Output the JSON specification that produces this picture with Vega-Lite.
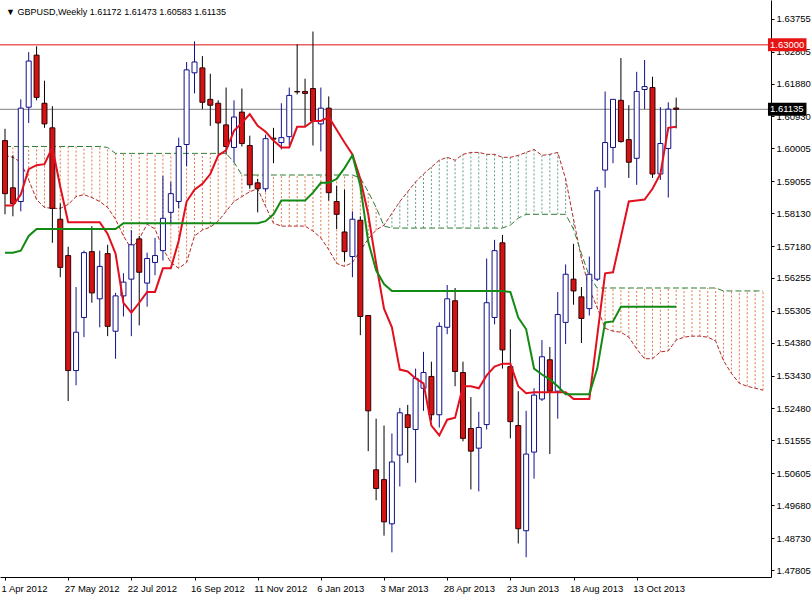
{
"$schema": "https://vega.github.io/schema/vega-lite/v6.json",
"width": 771, "height": 577, "autosize": "none", "padding": {"left": 0, "top": 0, "right": 41, "bottom": 18},
"background": "#ffffff",
"config": {"view": {"stroke": null}, "font": "Liberation Sans", "axis": {"grid": false, "title": null, "labelOverlap": false, "labelBound": false, "labelFlush": false}},
"datasets": {
"weeks": [
{"date":"2012-04-01","open":1.60230,"high":1.60571,"low":1.58097,"close":1.58694,"tenkan":1.58353,"kijun":1.56988,"spanA":1.59803,"spanB":1.60059},
{"date":"2012-04-08","open":1.58864,"high":1.59803,"low":1.58040,"close":1.58410,"tenkan":1.58353,"kijun":1.56988,"spanA":1.59746,"spanB":1.60059},
{"date":"2012-04-15","open":1.58467,"high":1.61423,"low":1.58182,"close":1.61168,"tenkan":1.58666,"kijun":1.57045,"spanA":1.59604,"spanB":1.60059},
{"date":"2012-04-22","open":1.61196,"high":1.62789,"low":1.60741,"close":1.62532,"tenkan":1.59405,"kijun":1.57472,"spanA":1.59092,"spanB":1.60059},
{"date":"2012-04-29","open":1.62703,"high":1.62959,"low":1.61395,"close":1.61480,"tenkan":1.59519,"kijun":1.57671,"spanA":1.58524,"spanB":1.60059},
{"date":"2012-05-06","open":1.61310,"high":1.61964,"low":1.60599,"close":1.60713,"tenkan":1.59547,"kijun":1.57671,"spanA":1.58296,"spanB":1.60059},
{"date":"2012-05-13","open":1.60599,"high":1.61225,"low":1.57272,"close":1.58268,"tenkan":1.60031,"kijun":1.57671,"spanA":1.58268,"spanB":1.60059},
{"date":"2012-05-20","open":1.57955,"high":1.58410,"low":1.56278,"close":1.56562,"tenkan":1.58893,"kijun":1.57671,"spanA":1.58268,"spanB":1.60059},
{"date":"2012-05-27","open":1.56903,"high":1.57158,"low":1.52696,"close":1.53576,"tenkan":1.57870,"kijun":1.57671,"spanA":1.58382,"spanB":1.60059},
{"date":"2012-06-03","open":1.53576,"high":1.55993,"low":1.53150,"close":1.54686,"tenkan":1.57870,"kijun":1.57671,"spanA":1.58609,"spanB":1.60059},
{"date":"2012-06-10","open":1.55112,"high":1.57045,"low":1.54544,"close":1.56988,"tenkan":1.57870,"kijun":1.57671,"spanA":1.58666,"spanB":1.60059},
{"date":"2012-06-17","open":1.57017,"high":1.57756,"low":1.55539,"close":1.55823,"tenkan":1.57870,"kijun":1.57671,"spanA":1.58581,"spanB":1.60059},
{"date":"2012-06-24","open":1.55652,"high":1.57045,"low":1.54828,"close":1.56590,"tenkan":1.57870,"kijun":1.57671,"spanA":1.58467,"spanB":1.60059},
{"date":"2012-07-01","open":1.56960,"high":1.57215,"low":1.54572,"close":1.54856,"tenkan":1.57529,"kijun":1.57671,"spanA":1.58296,"spanB":1.60031},
{"date":"2012-07-08","open":1.54714,"high":1.55823,"low":1.53918,"close":1.55737,"tenkan":1.56960,"kijun":1.57671,"spanA":1.57955,"spanB":1.59860},
{"date":"2012-07-15","open":1.55737,"high":1.56392,"low":1.55140,"close":1.56135,"tenkan":1.55538,"kijun":1.57841,"spanA":1.57472,"spanB":1.59860},
{"date":"2012-07-22","open":1.56221,"high":1.57642,"low":1.54572,"close":1.57215,"tenkan":1.55254,"kijun":1.57841,"spanA":1.57102,"spanB":1.59860},
{"date":"2012-07-29","open":1.57386,"high":1.57472,"low":1.54884,"close":1.56420,"tenkan":1.55538,"kijun":1.57841,"spanA":1.57386,"spanB":1.59860},
{"date":"2012-08-05","open":1.56107,"high":1.56988,"low":1.55425,"close":1.56818,"tenkan":1.55851,"kijun":1.57841,"spanA":1.57813,"spanB":1.59860},
{"date":"2012-08-12","open":1.56704,"high":1.57415,"low":1.56335,"close":1.56903,"tenkan":1.55851,"kijun":1.57841,"spanA":1.57671,"spanB":1.59860},
{"date":"2012-08-19","open":1.57045,"high":1.59206,"low":1.56761,"close":1.57983,"tenkan":1.56534,"kijun":1.57841,"spanA":1.57102,"spanB":1.59860},
{"date":"2012-08-26","open":1.58154,"high":1.59035,"low":1.57813,"close":1.58694,"tenkan":1.56534,"kijun":1.57841,"spanA":1.56704,"spanB":1.59860},
{"date":"2012-09-02","open":1.58467,"high":1.60315,"low":1.58268,"close":1.60059,"tenkan":1.57330,"kijun":1.57841,"spanA":1.56534,"spanB":1.59860},
{"date":"2012-09-09","open":1.60116,"high":1.62504,"low":1.59490,"close":1.62276,"tenkan":1.58467,"kijun":1.57841,"spanA":1.56704,"spanB":1.59860},
{"date":"2012-09-16","open":1.62191,"high":1.63101,"low":1.61594,"close":1.62504,"tenkan":1.58808,"kijun":1.57841,"spanA":1.57472,"spanB":1.59860},
{"date":"2012-09-23","open":1.62333,"high":1.62674,"low":1.61139,"close":1.61338,"tenkan":1.58979,"kijun":1.57841,"spanA":1.57642,"spanB":1.59860},
{"date":"2012-09-30","open":1.61423,"high":1.62163,"low":1.60656,"close":1.61253,"tenkan":1.59263,"kijun":1.57841,"spanA":1.57728,"spanB":1.59860},
{"date":"2012-10-07","open":1.61310,"high":1.61395,"low":1.59831,"close":1.60741,"tenkan":1.59803,"kijun":1.57841,"spanA":1.57898,"spanB":1.59860},
{"date":"2012-10-14","open":1.60684,"high":1.61764,"low":1.59831,"close":1.60059,"tenkan":1.59945,"kijun":1.57841,"spanA":1.58183,"spanB":1.59860},
{"date":"2012-10-21","open":1.60031,"high":1.61395,"low":1.59604,"close":1.60911,"tenkan":1.60514,"kijun":1.57841,"spanA":1.58467,"spanB":1.59604},
{"date":"2012-10-28","open":1.61054,"high":1.61736,"low":1.60059,"close":1.60145,"tenkan":1.60741,"kijun":1.57841,"spanA":1.58609,"spanB":1.59234},
{"date":"2012-11-04","open":1.60088,"high":1.60372,"low":1.58836,"close":1.58950,"tenkan":1.60997,"kijun":1.57841,"spanA":1.58751,"spanB":1.59234},
{"date":"2012-11-11","open":1.59007,"high":1.59121,"low":1.58154,"close":1.58836,"tenkan":1.60656,"kijun":1.57841,"spanA":1.58836,"spanB":1.59234},
{"date":"2012-11-18","open":1.58836,"high":1.60400,"low":1.58751,"close":1.60286,"tenkan":1.60485,"kijun":1.57898,"spanA":1.58325,"spanB":1.59234},
{"date":"2012-11-25","open":1.60300,"high":1.60599,"low":1.59576,"close":1.60272,"tenkan":1.60230,"kijun":1.58097,"spanA":1.57841,"spanB":1.59234},
{"date":"2012-12-02","open":1.60173,"high":1.61310,"low":1.59973,"close":1.60315,"tenkan":1.60031,"kijun":1.58495,"spanA":1.57756,"spanB":1.59234},
{"date":"2012-12-09","open":1.60343,"high":1.61764,"low":1.60088,"close":1.61537,"tenkan":1.60031,"kijun":1.58495,"spanA":1.57756,"spanB":1.59234},
{"date":"2012-12-16","open":1.61651,"high":1.63016,"low":1.61566,"close":1.61637,"tenkan":1.60628,"kijun":1.58495,"spanA":1.57756,"spanB":1.59234},
{"date":"2012-12-23","open":1.61651,"high":1.62020,"low":1.60627,"close":1.61594,"tenkan":1.60628,"kijun":1.58495,"spanA":1.57756,"spanB":1.59234},
{"date":"2012-12-30","open":1.61736,"high":1.63385,"low":1.60088,"close":1.60798,"tenkan":1.60798,"kijun":1.58723,"spanA":1.57614,"spanB":1.59234},
{"date":"2013-01-06","open":1.60713,"high":1.61764,"low":1.59917,"close":1.61168,"tenkan":1.60798,"kijun":1.59007,"spanA":1.57415,"spanB":1.59234},
{"date":"2013-01-13","open":1.61168,"high":1.61509,"low":1.58495,"close":1.58723,"tenkan":1.60912,"kijun":1.59007,"spanA":1.57074,"spanB":1.59234},
{"date":"2013-01-20","open":1.58467,"high":1.58922,"low":1.57671,"close":1.58097,"tenkan":1.60542,"kijun":1.59121,"spanA":1.56676,"spanB":1.59234},
{"date":"2013-01-27","open":1.57586,"high":1.58808,"low":1.56733,"close":1.57017,"tenkan":1.60173,"kijun":1.59434,"spanA":1.56590,"spanB":1.59234},
{"date":"2013-02-03","open":1.56875,"high":1.58182,"low":1.56278,"close":1.57955,"tenkan":1.59832,"kijun":1.59803,"spanA":1.56704,"spanB":1.59234},
{"date":"2013-02-10","open":1.57926,"high":1.58040,"low":1.54600,"close":1.55140,"tenkan":1.59121,"kijun":1.58922,"spanA":1.57045,"spanB":1.59149},
{"date":"2013-02-17","open":1.55169,"high":1.55169,"low":1.51245,"close":1.52411,"tenkan":1.58097,"kijun":1.57301,"spanA":1.57386,"spanB":1.58751},
{"date":"2013-02-24","open":1.50705,"high":1.52184,"low":1.49824,"close":1.50165,"tenkan":1.56676,"kijun":1.56477,"spanA":1.57642,"spanB":1.58296},
{"date":"2013-03-03","open":1.50421,"high":1.51985,"low":1.48800,"close":1.49199,"tenkan":1.55368,"kijun":1.56079,"spanA":1.57785,"spanB":1.57756},
{"date":"2013-03-10","open":1.49142,"high":1.51757,"low":1.48317,"close":1.50932,"tenkan":1.54828,"kijun":1.55880,"spanA":1.58126,"spanB":1.57699},
{"date":"2013-03-17","open":1.51132,"high":1.52496,"low":1.50222,"close":1.52354,"tenkan":1.53605,"kijun":1.55880,"spanA":1.58467,"spanB":1.57699},
{"date":"2013-03-24","open":1.52297,"high":1.52582,"low":1.50904,"close":1.51928,"tenkan":1.53548,"kijun":1.55880,"spanA":1.58751,"spanB":1.57699},
{"date":"2013-03-31","open":1.51871,"high":1.53633,"low":1.50335,"close":1.53349,"tenkan":1.53349,"kijun":1.55880,"spanA":1.59035,"spanB":1.57699},
{"date":"2013-04-07","open":1.53065,"high":1.54117,"low":1.52411,"close":1.53519,"tenkan":1.53207,"kijun":1.55880,"spanA":1.59263,"spanB":1.57699},
{"date":"2013-04-14","open":1.53406,"high":1.53833,"low":1.52127,"close":1.52297,"tenkan":1.51985,"kijun":1.55880,"spanA":1.59462,"spanB":1.57699},
{"date":"2013-04-21","open":1.52297,"high":1.54970,"low":1.51928,"close":1.54856,"tenkan":1.51700,"kijun":1.55880,"spanA":1.59661,"spanB":1.57699},
{"date":"2013-04-28","open":1.54828,"high":1.56050,"low":1.54629,"close":1.55652,"tenkan":1.52155,"kijun":1.55880,"spanA":1.59746,"spanB":1.57699},
{"date":"2013-05-05","open":1.55596,"high":1.55965,"low":1.53122,"close":1.53548,"tenkan":1.52212,"kijun":1.55880,"spanA":1.59661,"spanB":1.57699},
{"date":"2013-05-12","open":1.53519,"high":1.53833,"low":1.51529,"close":1.51615,"tenkan":1.53122,"kijun":1.55880,"spanA":1.59832,"spanB":1.57699},
{"date":"2013-05-19","open":1.51899,"high":1.52809,"low":1.50136,"close":1.51245,"tenkan":1.53122,"kijun":1.55880,"spanA":1.59888,"spanB":1.57699},
{"date":"2013-05-26","open":1.51331,"high":1.52383,"low":1.50080,"close":1.51928,"tenkan":1.53065,"kijun":1.55880,"spanA":1.59888,"spanB":1.57699},
{"date":"2013-06-02","open":1.52013,"high":1.56818,"low":1.51871,"close":1.55539,"tenkan":1.53435,"kijun":1.55880,"spanA":1.59832,"spanB":1.57699},
{"date":"2013-06-09","open":1.55112,"high":1.57358,"low":1.54912,"close":1.57045,"tenkan":1.53690,"kijun":1.55880,"spanA":1.59832,"spanB":1.57699},
{"date":"2013-06-16","open":1.57272,"high":1.57500,"low":1.53633,"close":1.54174,"tenkan":1.53776,"kijun":1.55880,"spanA":1.59746,"spanB":1.57699},
{"date":"2013-06-23","open":1.53690,"high":1.54771,"low":1.51615,"close":1.52098,"tenkan":1.53776,"kijun":1.55851,"spanA":1.59746,"spanB":1.57785},
{"date":"2013-06-30","open":1.51985,"high":1.52980,"low":1.48573,"close":1.49000,"tenkan":1.53122,"kijun":1.55112,"spanA":1.59803,"spanB":1.57984},
{"date":"2013-07-07","open":1.48942,"high":1.52411,"low":1.48175,"close":1.51160,"tenkan":1.52923,"kijun":1.54771,"spanA":1.59888,"spanB":1.58097},
{"date":"2013-07-14","open":1.51217,"high":1.53065,"low":1.50449,"close":1.52866,"tenkan":1.52951,"kijun":1.53634,"spanA":1.59974,"spanB":1.58097},
{"date":"2013-07-21","open":1.52752,"high":1.54458,"low":1.52696,"close":1.53975,"tenkan":1.52951,"kijun":1.53463,"spanA":1.59803,"spanB":1.58097},
{"date":"2013-07-28","open":1.53889,"high":1.54259,"low":1.51160,"close":1.52980,"tenkan":1.52951,"kijun":1.53321,"spanA":1.59832,"spanB":1.58097},
{"date":"2013-08-04","open":1.52980,"high":1.55851,"low":1.52184,"close":1.55197,"tenkan":1.52951,"kijun":1.53122,"spanA":1.59888,"spanB":1.58097},
{"date":"2013-08-11","open":1.54970,"high":1.56647,"low":1.54344,"close":1.56363,"tenkan":1.52951,"kijun":1.52894,"spanA":1.59121,"spanB":1.58097},
{"date":"2013-08-18","open":1.56221,"high":1.57244,"low":1.55482,"close":1.55880,"tenkan":1.52752,"kijun":1.52894,"spanA":1.57955,"spanB":1.57671},
{"date":"2013-08-25","open":1.55709,"high":1.55993,"low":1.54373,"close":1.55084,"tenkan":1.52752,"kijun":1.52894,"spanA":1.56818,"spanB":1.56960},
{"date":"2013-09-01","open":1.55368,"high":1.56875,"low":1.55169,"close":1.56363,"tenkan":1.52752,"kijun":1.52894,"spanA":1.55936,"spanB":1.56306},
{"date":"2013-09-08","open":1.56221,"high":1.58893,"low":1.56164,"close":1.58780,"tenkan":1.54572,"kijun":1.53634,"spanA":1.55396,"spanB":1.55965},
{"date":"2013-09-15","open":1.59377,"high":1.61651,"low":1.58865,"close":1.60173,"tenkan":1.56391,"kijun":1.54970,"spanA":1.54799,"spanB":1.55965},
{"date":"2013-09-22","open":1.60031,"high":1.61423,"low":1.59576,"close":1.61423,"tenkan":1.56420,"kijun":1.54998,"spanA":1.54714,"spanB":1.55965},
{"date":"2013-09-29","open":1.61395,"high":1.62618,"low":1.60173,"close":1.60201,"tenkan":1.57443,"kijun":1.55425,"spanA":1.54686,"spanB":1.55965},
{"date":"2013-10-06","open":1.60258,"high":1.61253,"low":1.59149,"close":1.59604,"tenkan":1.58467,"kijun":1.55425,"spanA":1.54543,"spanB":1.55965},
{"date":"2013-10-13","open":1.59718,"high":1.62220,"low":1.58950,"close":1.61651,"tenkan":1.58495,"kijun":1.55425,"spanA":1.54202,"spanB":1.55965},
{"date":"2013-10-20","open":1.61708,"high":1.62561,"low":1.61139,"close":1.61793,"tenkan":1.58524,"kijun":1.55425,"spanA":1.53918,"spanB":1.55965},
{"date":"2013-10-27","open":1.61764,"high":1.62078,"low":1.59149,"close":1.59263,"tenkan":1.58836,"kijun":1.55425,"spanA":1.53918,"spanB":1.55965},
{"date":"2013-11-03","open":1.59263,"high":1.61196,"low":1.59092,"close":1.60145,"tenkan":1.59263,"kijun":1.55425,"spanA":1.54117,"spanB":1.55965},
{"date":"2013-11-10","open":1.60002,"high":1.61338,"low":1.58581,"close":1.61139,"tenkan":1.60599,"kijun":1.55425,"spanA":1.54145,"spanB":1.55965},
{"date":"2013-11-17","open":1.61172,"high":1.61473,"low":1.60583,"close":1.61135,"tenkan":1.60628,"kijun":1.55425,"spanA":1.54458,"spanB":1.55965},
{"date":"2013-11-24","spanA":1.54543,"spanB":1.55965},
{"date":"2013-12-01","spanA":1.54572,"spanB":1.55965},
{"date":"2013-12-08","spanA":1.54572,"spanB":1.55965},
{"date":"2013-12-15","spanA":1.54543,"spanB":1.55965},
{"date":"2013-12-22","spanA":1.54430,"spanB":1.55965},
{"date":"2013-12-29","spanA":1.53861,"spanB":1.55880},
{"date":"2014-01-05","spanA":1.53491,"spanB":1.55880},
{"date":"2014-01-12","spanA":1.53207,"spanB":1.55880},
{"date":"2014-01-19","spanA":1.53122,"spanB":1.55880},
{"date":"2014-01-26","spanA":1.53065,"spanB":1.55880},
{"date":"2014-02-02","spanA":1.53008,"spanB":1.55880}
],
"levels": [
{"level":1.63,"label":"1.63000","kind":"alert"},
{"level":1.61135,"label":"1.61135","kind":"bid"}
],
"head": [
{"text":"▼ GBPUSD,Weekly  1.61172 1.61473 1.60583 1.61135"}
]
},
"layer": [
{
"data": {"name": "weeks"},
"mark": {"type": "rule", "strokeDash": [2, 2], "strokeWidth": 1, "clip": true},
"encoding": {
"x": {"field": "date", "type": "temporal", "title": null,
"scale": {"type": "utc", "domain": [{"year":2012,"month":4,"date":1,"utc":true},{"year":2014,"month":2,"date":4,"hours":15,"utc":true}]},
"axis": {"orient": "bottom", "title": null, "grid": false, "format": "%-d %b %Y", "tickCount": 40,
"values": [{"year":2012,"month":4,"date":1,"utc":true},{"year":2012,"month":5,"date":27,"utc":true},{"year":2012,"month":7,"date":22,"utc":true},{"year":2012,"month":9,"date":16,"utc":true},{"year":2012,"month":11,"date":11,"utc":true},{"year":2013,"month":1,"date":6,"utc":true},{"year":2013,"month":3,"date":3,"utc":true},{"year":2013,"month":4,"date":28,"utc":true},{"year":2013,"month":6,"date":23,"utc":true},{"year":2013,"month":8,"date":18,"utc":true},{"year":2013,"month":10,"date":13,"utc":true}],
"domainColor": "#000000", "domainWidth": 1, "tickColor": "#000000", "tickSize": 3,
"labelAlign": "left", "labelBaseline": "top", "labelPadding": 3, "labelOffset": -4, "labelFont": "Liberation Sans", "labelFontSize": 9.5, "labelColor": "#000000", "labelOverlap": false, "labelFlush": false, "labelBound": false}},
"y": {"field": "spanA", "type": "quantitative", "title": null,
"scale": {"domain": [1.47748, 1.64153], "nice": false, "zero": false},
"axis": {"orient": "right", "title": null, "grid": false, "format": ".5f", "tickCount": 40,
"values": [1.63755, 1.62805, 1.6188, 1.6093, 1.60005, 1.59055, 1.5813, 1.5718, 1.56255, 1.55305, 1.5438, 1.5343, 1.5248, 1.51555, 1.50605, 1.4968, 1.4873, 1.47805],
"domainColor": "#000000", "domainWidth": 1, "tickColor": "#000000", "tickSize": 3,
"labelPadding": 2, "labelFont": "Liberation Sans", "labelFontSize": 9.5, "labelColor": "#000000", "labelOverlap": false, "labelBound": false}},
"y2": {"field": "spanB"},
"color": {"condition": {"test": "datum.spanA > datum.spanB", "value": "#5f9f8a"}, "value": "#e07a4a"}
}
},
{
"data": {"name": "weeks"},
"mark": {"type": "line", "strokeDash": [4, 2], "strokeWidth": 1, "color": "#b02a2a", "clip": true},
"encoding": {
"x": {"field": "date", "type": "temporal", "title": null, "scale": {"type": "utc", "domain": [{"year":2012,"month":4,"date":1,"utc":true},{"year":2014,"month":2,"date":4,"hours":15,"utc":true}]}},
"y": {"field": "spanA", "type": "quantitative", "title": null, "scale": {"domain": [1.47748, 1.64153], "nice": false, "zero": false}}
}
},
{
"data": {"name": "weeks"},
"mark": {"type": "line", "strokeDash": [6, 3], "strokeWidth": 1, "color": "#2e7d32", "clip": true},
"encoding": {
"x": {"field": "date", "type": "temporal", "title": null, "scale": {"type": "utc", "domain": [{"year":2012,"month":4,"date":1,"utc":true},{"year":2014,"month":2,"date":4,"hours":15,"utc":true}]}},
"y": {"field": "spanB", "type": "quantitative", "title": null, "scale": {"domain": [1.47748, 1.64153], "nice": false, "zero": false}}
}
},
{
"data": {"name": "levels"},
"mark": {"type": "rule", "strokeWidth": 1, "clip": true},
"encoding": {
"y": {"field": "level", "type": "quantitative", "title": null, "scale": {"domain": [1.47748, 1.64153], "nice": false, "zero": false}},
"color": {"condition": {"test": "datum.kind == 'alert'", "value": "#e01010"}, "value": "#808080"}
}
},
{
"data": {"name": "weeks"},
"transform": [{"filter": "isValid(datum.open)"}],
"mark": {"type": "rule", "strokeWidth": 1, "clip": true},
"encoding": {
"x": {"field": "date", "type": "temporal", "title": null, "scale": {"type": "utc", "domain": [{"year":2012,"month":4,"date":1,"utc":true},{"year":2014,"month":2,"date":4,"hours":15,"utc":true}]}},
"y": {"field": "low", "type": "quantitative", "title": null, "scale": {"domain": [1.47748, 1.64153], "nice": false, "zero": false}},
"y2": {"field": "high"},
"color": {"condition": {"test": "datum.close >= datum.open", "value": "#10108a"}, "value": "#000000"}
}
},
{
"data": {"name": "weeks"},
"transform": [{"filter": "isValid(datum.open)"}],
"mark": {"type": "bar", "size": 5, "strokeWidth": 1, "clip": true},
"encoding": {
"x": {"field": "date", "type": "temporal", "title": null, "scale": {"type": "utc", "domain": [{"year":2012,"month":4,"date":1,"utc":true},{"year":2014,"month":2,"date":4,"hours":15,"utc":true}]}},
"y": {"field": "open", "type": "quantitative", "title": null, "scale": {"domain": [1.47748, 1.64153], "nice": false, "zero": false}},
"y2": {"field": "close"},
"fill": {"condition": {"test": "datum.close >= datum.open", "value": "#ffffff"}, "value": "#d41414"},
"stroke": {"condition": {"test": "datum.close >= datum.open", "value": "#10108a"}, "value": "#300000"}
}
},
{
"data": {"name": "weeks"},
"transform": [{"filter": "isValid(datum.tenkan)"}],
"mark": {"type": "line", "strokeWidth": 2, "color": "#e2101e", "clip": true},
"encoding": {
"x": {"field": "date", "type": "temporal", "title": null, "scale": {"type": "utc", "domain": [{"year":2012,"month":4,"date":1,"utc":true},{"year":2014,"month":2,"date":4,"hours":15,"utc":true}]}},
"y": {"field": "tenkan", "type": "quantitative", "title": null, "scale": {"domain": [1.47748, 1.64153], "nice": false, "zero": false}}
}
},
{
"data": {"name": "weeks"},
"transform": [{"filter": "isValid(datum.kijun)"}],
"mark": {"type": "line", "strokeWidth": 2, "color": "#138a13", "clip": true},
"encoding": {
"x": {"field": "date", "type": "temporal", "title": null, "scale": {"type": "utc", "domain": [{"year":2012,"month":4,"date":1,"utc":true},{"year":2014,"month":2,"date":4,"hours":15,"utc":true}]}},
"y": {"field": "kijun", "type": "quantitative", "title": null, "scale": {"domain": [1.47748, 1.64153], "nice": false, "zero": false}}
}
},
{
"data": {"name": "levels"},
"mark": {"type": "bar", "size": 13, "clip": false, "orient": "horizontal"},
"encoding": {
"x": {"datum": {"year":2014,"month":2,"date":6,"hours":9,"utc":true}, "type": "temporal", "title": null, "scale": {"type": "utc", "domain": [{"year":2012,"month":4,"date":1,"utc":true},{"year":2014,"month":2,"date":4,"hours":15,"utc":true}]}},
"x2": {"datum": {"year":2014,"month":3,"date":12,"hours":12,"utc":true}},
"y": {"field": "level", "type": "quantitative", "title": null, "scale": {"domain": [1.47748, 1.64153], "nice": false, "zero": false}},
"color": {"condition": {"test": "datum.kind == 'alert'", "value": "#e81414"}, "value": "#000000"}
}
},
{
"data": {"name": "levels"},
"mark": {"type": "text", "align": "left", "baseline": "middle", "dx": 2, "fontSize": 9.5, "font": "Liberation Sans", "color": "#ffffff", "clip": false},
"encoding": {
"x": {"datum": {"year":2014,"month":2,"date":6,"hours":9,"utc":true}, "type": "temporal", "title": null, "scale": {"type": "utc", "domain": [{"year":2012,"month":4,"date":1,"utc":true},{"year":2014,"month":2,"date":4,"hours":15,"utc":true}]}},
"y": {"field": "level", "type": "quantitative", "title": null, "scale": {"domain": [1.47748, 1.64153], "nice": false, "zero": false}},
"text": {"field": "label"}
}
},
{
"data": {"name": "head"},
"mark": {"type": "text", "align": "left", "baseline": "middle", "dx": 1, "dy": 7, "fontSize": 9, "font": "Liberation Sans", "color": "#000000", "clip": false},
"encoding": {
"x": {"datum": {"year":2012,"month":4,"date":1,"utc":true}, "type": "temporal", "title": null, "scale": {"type": "utc", "domain": [{"year":2012,"month":4,"date":1,"utc":true},{"year":2014,"month":2,"date":4,"hours":15,"utc":true}]}},
"y": {"datum": 1.64153, "type": "quantitative", "title": null, "scale": {"domain": [1.47748, 1.64153], "nice": false, "zero": false}},
"text": {"field": "text"}
}
}
]
}
